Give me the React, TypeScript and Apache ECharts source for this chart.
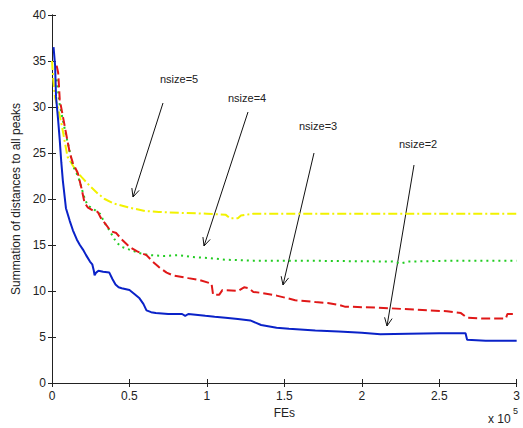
import React, { useEffect, useRef } from "react";
import * as echarts from "echarts";

const xTicks = [0, 0.5, 1, 1.5, 2, 2.5, 3];
const yTicks = [0, 5, 10, 15, 20, 25, 30, 35, 40];

const nsize2: [number, number][] = [
  [0.01, 36.5], [0.02, 34.5], [0.026, 31.1], [0.04, 28.5], [0.05, 26.4], [0.06, 24], [0.07, 22],
  [0.09, 19], [0.115, 17.6], [0.135, 16.6], [0.16, 15.6], [0.18, 15.0], [0.2, 14.5],
  [0.22, 13.9], [0.245, 13.2], [0.26, 12.9], [0.27, 12.2], [0.275, 11.7], [0.285, 12.0], [0.3, 12.2],
  [0.33, 12.1], [0.37, 12.0], [0.39, 11.3], [0.41, 10.7], [0.43, 10.4], [0.45, 10.3], [0.5, 10.1],
  [0.53, 9.7], [0.565, 9.2], [0.59, 8.6], [0.61, 7.9], [0.64, 7.7], [0.67, 7.6], [0.75, 7.5],
  [0.84, 7.5], [0.86, 7.3], [0.88, 7.5], [0.99, 7.3], [1.05, 7.2], [1.12, 7.1], [1.2, 6.95],
  [1.28, 6.8], [1.35, 6.3], [1.45, 6.0], [1.53, 5.9], [1.7, 5.7], [1.85, 5.6], [2.0, 5.45],
  [2.12, 5.3], [2.3, 5.35], [2.5, 5.4], [2.67, 5.4], [2.68, 4.7], [2.8, 4.6], [3.0, 4.6],
];

const nsize3: [number, number][] = [
  [0.03, 34.5], [0.04, 33.7], [0.05, 30.8], [0.07, 29], [0.09, 27.2], [0.115, 25], [0.135, 23.9],
  [0.167, 22.8], [0.19, 21.2], [0.21, 19.6], [0.23, 19.1], [0.26, 18.8], [0.295, 18.6],
  [0.32, 17.8], [0.34, 17.4], [0.38, 16.5], [0.415, 16.3],
  [0.45, 15.6], [0.5, 14.8], [0.55, 14.3], [0.61, 13.9], [0.65, 13.2], [0.69, 12.6], [0.74, 12.0],
  [0.78, 11.7], [0.88, 11.4], [0.95, 11.2], [1.03, 10.8], [1.04, 9.6], [1.08, 9.6], [1.1, 10.1],
  [1.2, 10.0], [1.24, 10.4], [1.27, 10.3], [1.3, 9.9], [1.35, 9.8], [1.45, 9.5], [1.57, 9.0],
  [1.7, 8.8], [1.78, 8.7], [1.85, 8.5], [1.89, 8.3], [2.1, 8.2], [2.42, 7.9], [2.55, 7.8],
  [2.64, 7.6], [2.68, 7.1], [2.8, 7.0], [2.93, 7.0], [2.94, 7.5], [3.0, 7.5],
];

const nsize4: [number, number][] = [
  [0.03, 33], [0.05, 30.2], [0.09, 27], [0.135, 23.6], [0.17, 22.4], [0.21, 20.1],
  [0.23, 19.3], [0.26, 19.0], [0.31, 18.4], [0.34, 17.4], [0.37, 16.6], [0.415, 15.3], [0.45, 14.8],
  [0.5, 14.5], [0.57, 14.1], [0.63, 13.9], [0.72, 13.8], [0.82, 13.9], [0.9, 13.7], [1.0, 13.6],
  [1.12, 13.4], [1.3, 13.3], [1.6, 13.3], [1.9, 13.25], [2.2, 13.2], [2.25, 13.0], [2.3, 13.2],
  [2.6, 13.3], [3.0, 13.3],
];

const nsize5: [number, number][] = [
  [0.0, 35], [0.008, 33], [0.02, 31], [0.04, 29.8], [0.06, 28.3], [0.1, 24.6],
  [0.15, 23.2], [0.19, 22.4], [0.24, 21.5], [0.295, 20.6], [0.34, 20], [0.4, 19.5], [0.49, 19.1],
  [0.6, 18.7], [0.69, 18.6], [0.82, 18.5], [1.0, 18.4], [1.12, 18.3], [1.15, 17.9], [1.2, 17.9],
  [1.22, 18.2], [1.3, 18.4], [2.0, 18.4], [3.0, 18.4],
];

const annotations = [
  { text: "nsize=5", tx: 160, ty: 79, from: [163, 103], to: [133, 197] },
  { text: "nsize=4", tx: 228, ty: 98, from: [248, 112], to: [204, 246] },
  { text: "nsize=3", tx: 299, ty: 126, from: [314, 153], to: [283, 285] },
  { text: "nsize=2", tx: 399, ty: 144, from: [414, 165], to: [387, 326] },
];

function arrowGraphics(from: number[], to: number[]) {
  const dx = to[0] - from[0];
  const dy = to[1] - from[1];
  const len = Math.sqrt(dx * dx + dy * dy);
  const ux = dx / len;
  const uy = dy / len;
  const h = 9;
  const a = (25 * Math.PI) / 180;
  const rot = (x: number, y: number, ang: number) => [
    x * Math.cos(ang) - y * Math.sin(ang),
    x * Math.sin(ang) + y * Math.cos(ang),
  ];
  const l = rot(-ux * h, -uy * h, a);
  const r = rot(-ux * h, -uy * h, -a);
  return [
    {
      type: "line",
      shape: { x1: from[0], y1: from[1], x2: to[0], y2: to[1] },
      style: { stroke: "#111", lineWidth: 1 },
    },
    {
      type: "polyline",
      shape: {
        points: [
          [to[0] + l[0], to[1] + l[1]],
          [to[0], to[1]],
          [to[0] + r[0], to[1] + r[1]],
        ],
      },
      style: { stroke: "#111", lineWidth: 1, fill: "none" },
    },
  ];
}

export default function App() {
  const ref = useRef<HTMLDivElement>(null);
  useEffect(() => {
    if (!ref.current) return;
    const chart = echarts.init(ref.current, undefined, { renderer: "svg" });
    const font = "Liberation Sans, Arial, sans-serif";
    const axisLine = { show: true, lineStyle: { color: "#222", width: 1 } };
    const graphics: any[] = [];
    annotations.forEach((an) => {
      graphics.push({
        type: "text",
        x: an.tx,
        y: an.ty,
        style: { text: an.text, fill: "#222", font: `11px ${font}`, verticalAlign: "middle" },
      });
      graphics.push(...arrowGraphics(an.from, an.to));
    });
    graphics.push({
      type: "text",
      x: 488,
      y: 419,
      style: { text: "x 10", fill: "#222", font: `12px ${font}`, verticalAlign: "middle" },
    });
    graphics.push({
      type: "text",
      x: 513,
      y: 411,
      style: { text: "5", fill: "#222", font: `9px ${font}`, verticalAlign: "middle" },
    });
    const lineSeries = (name: string, data: [number, number][], color: string, type: any) => ({
      name,
      type: "line",
      data,
      showSymbol: false,
      symbol: "none",
      lineStyle: { color, width: 2, type },
      xAxisIndex: 0,
      yAxisIndex: 0,
    });
    chart.setOption({
      animation: false,
      backgroundColor: "#fff",
      grid: { left: 52, top: 15, right: 3, bottom: 45 },
      xAxis: [
        {
          type: "value",
          min: 0,
          max: 3,
          interval: 0.5,
          name: "FEs",
          nameLocation: "middle",
          nameGap: 23,
          nameTextStyle: { fontFamily: font, fontSize: 12, color: "#222" },
          axisLine,
          axisTick: { inside: true, length: 4, lineStyle: { color: "#222" } },
          axisLabel: { fontFamily: font, fontSize: 12, color: "#222", margin: 7 },
          splitLine: { show: false },
        },
        {
          type: "value",
          position: "top",
          min: 0,
          max: 3,
          interval: 0.5,
          axisLine,
          axisTick: { inside: true, length: 4, lineStyle: { color: "#222" } },
          axisLabel: { show: false },
          splitLine: { show: false },
        },
      ],
      yAxis: [
        {
          type: "value",
          min: 0,
          max: 40,
          interval: 5,
          name: "Summation of distances to all peaks",
          nameLocation: "middle",
          nameGap: 29,
          nameTextStyle: { fontFamily: font, fontSize: 12, color: "#222" },
          axisLine,
          axisTick: { inside: true, length: 4, lineStyle: { color: "#222" } },
          axisLabel: { fontFamily: font, fontSize: 12, color: "#222", margin: 6 },
          splitLine: { show: false },
        },
        {
          type: "value",
          position: "right",
          min: 0,
          max: 40,
          interval: 5,
          axisLine,
          axisTick: { inside: true, length: 4, lineStyle: { color: "#222" } },
          axisLabel: { show: false },
          splitLine: { show: false },
        },
      ],
      series: [
        lineSeries("nsize=5", nsize5, "#f2f200", [9, 3, 2, 3]),
        lineSeries("nsize=4", nsize4, "#22cc22", [2, 4]),
        lineSeries("nsize=3", nsize3, "#e01818", [9, 4]),
        lineSeries("nsize=2", nsize2, "#0a22c8", "solid"),
      ],
      graphic: graphics,
    });
    return () => chart.dispose();
  }, []);
  return (
    <div
      ref={ref}
      style={{ position: "absolute", left: 0, top: 0, width: 523, height: 428 }}
    />
  );
}
